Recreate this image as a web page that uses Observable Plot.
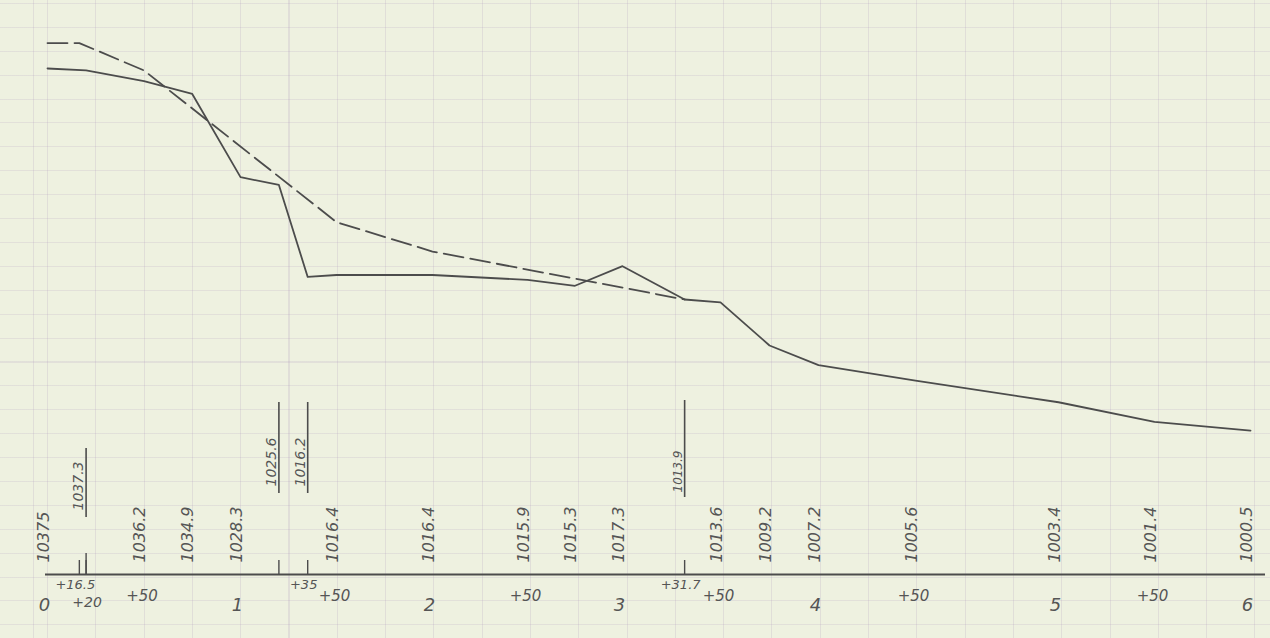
<!DOCTYPE html>
<html>
<head>
<meta charset="utf-8">
<script src="https://cdn.jsdelivr.net/npm/d3@7"></script>
<script src="https://cdn.jsdelivr.net/npm/@observablehq/plot@0.6"></script>
<style>
  html, body { margin: 0; padding: 0; background: #eef1e0; }
  #chart {
    width: 1270px; height: 638px; position: relative; overflow: hidden;
    background-color: #eef1e0;
    background-image:
      repeating-linear-gradient(to right, rgba(170,145,185,0.20) 0 1px, transparent 1px 48.3px),
      repeating-linear-gradient(to bottom, rgba(170,145,185,0.18) 0 1px, transparent 1px 23.9px);
    background-position: 47px 0, 0 3px;
  }
  #chart svg { position: absolute; left: 0; top: 0; }
</style>
</head>
<body>
<div id="chart"></div>
<script>
// ---- data (chainage in metres, elevations in metres) ----
const groundStations   = [0, 20, 50, 75, 100, 120, 135, 150, 200, 250, 275, 300, 331.7, 350, 375, 400, 450, 500, 550, 600];
const groundElevations = [1037.5, 1037.3, 1036.2, 1034.9, 1026.4, 1025.6, 1016.2, 1016.4, 1016.4, 1015.9, 1015.3, 1017.3, 1013.9, 1013.6, 1009.2, 1007.2, 1005.6, 1003.4, 1001.4, 1000.5];
const groundLabels     = ["10375", "1037.3", "1036.2", "1034.9", "1028.3", "1025.6", "1016.2", "1016.4", "1016.4", "1015.9", "1015.3", "1017.3", "1013.9", "1013.6", "1009.2", "1007.2", "1005.6", "1003.4", "1001.4", "1000.5"];

const gradeStations   = [0, 16.5, 50, 150, 200, 331.7];
const gradeElevations = [1040.1, 1040.1, 1037.3, 1021.8, 1018.8, 1013.9];

const structureStations = [20, 120, 135, 331.7];

const kmStations = [0, 100, 200, 300, 400, 500, 600];
const kmLabels   = ["0", "1", "2", "3", "4", "5", "6"];

const halfStations = [50, 150, 250, 350, 450, 550];
const halfLabels   = ["+50", "+50", "+50", "+50", "+50", "+50"];

const plusStations = [16.5, 135, 331.7];
const plusLabels   = ["+16.5", "+35", "+31.7"];

const plus20Stations = [20];
const plus20Labels   = ["+20"];

const tickStations = [16.5, 20, 120, 135, 331.7];

const datum = 985.8;           // datum level of the profile (axis line)
const topElevation = 1037.5;

// ---- tables built from the arrays ----
const ground = groundStations.map((s, i) => ({station: s, elevation: groundElevations[i], label: groundLabels[i]}));
const grade = gradeStations.map((s, i) => ({station: s, elevation: gradeElevations[i]}));
const isStructure = (d) => structureStations.includes(d.station);
const km = kmStations.map((s, i) => ({station: s, label: kmLabels[i]}));
const half = halfStations.map((s, i) => ({station: s, label: halfLabels[i]}));
const plus = plusStations.map((s, i) => ({station: s, label: plusLabels[i]}));
const plus20 = plus20Stations.map((s, i) => ({station: s, label: plus20Labels[i]}));

const ink = "#4c4c4c";
const textInk = "#555555";
const font = "DejaVu Sans";

const chart = Plot.plot({
  width: 1270,
  height: 638,
  marginTop: 68,
  marginBottom: 64,
  marginLeft: 0,
  marginRight: 0,
  style: {background: "transparent", fontFamily: font, overflow: "visible"},
  x: {type: "linear", axis: null, domain: [0, 100, 200, 300, 400, 450, 500, 600], range: [47, 240, 432, 622, 818, 915, 1058, 1250]},
  y: {type: "linear", axis: null, domain: [datum, topElevation]},
  marks: [
    // axis line
    Plot.ruleY([datum], {stroke: ink, strokeWidth: 1.8, insetLeft: 45, insetRight: 5}),
    // short ticks on the axis
    Plot.ruleX(tickStations, {x: (d) => d, y1: datum, y2: datum, insetTop: -14, stroke: ink, strokeWidth: 1.4}),
    Plot.ruleX([20], {x: (d) => d, y1: datum, y2: datum, insetTop: -21, stroke: ink, strokeWidth: 1.4}),
    // tall structure lines
    Plot.ruleX([20], {x: (d) => d, y1: datum, y2: datum, insetTop: -126, insetBottom: 57, stroke: ink, strokeWidth: 1.6}),
    Plot.ruleX([120, 135], {x: (d) => d, y1: datum, y2: datum, insetTop: -172, insetBottom: 81, stroke: ink, strokeWidth: 1.6}),
    Plot.ruleX([331.7], {x: (d) => d, y1: datum, y2: datum, insetTop: -174, insetBottom: 77, stroke: ink, strokeWidth: 1.6}),
    // design grade (dashed)
    Plot.line(grade, {x: "station", y: "elevation", stroke: ink, strokeWidth: 1.8, strokeDasharray: "20,7"}),
    // ground profile
    Plot.line(ground, {x: "station", y: "elevation", stroke: ink, strokeWidth: 1.8}),
    // ground elevation labels (rotated)
    Plot.text(ground.filter((d) => !isStructure(d)), {
      x: "station", y: datum, text: "label", rotate: -90, textAnchor: "start", lineAnchor: "middle",
      dx: -4, dy: -12, fontSize: 16, fontStyle: "italic", fill: textInk
    }),
    // underlined structure labels
    Plot.text(ground.filter((d) => d.station === 20), {
      x: "station", y: datum, text: "label", rotate: -90, textAnchor: "start", lineAnchor: "bottom",
      dx: -3, dy: -64, fontSize: 14, fontStyle: "italic", fill: textInk
    }),
    Plot.text(ground.filter((d) => d.station === 120 || d.station === 135), {
      x: "station", y: datum, text: "label", rotate: -90, textAnchor: "start", lineAnchor: "bottom",
      dx: -3, dy: -88, fontSize: 14, fontStyle: "italic", fill: textInk
    }),
    Plot.text(ground.filter((d) => d.station === 331.7), {
      x: "station", y: datum, text: "label", rotate: -90, textAnchor: "start", lineAnchor: "bottom",
      dx: -3, dy: -82, fontSize: 12, fontStyle: "italic", fill: textInk
    }),
    // station labels below the axis
    Plot.text(km, {x: "station", y: datum, text: "label", dx: -3, dy: 31, fontSize: 18, fontStyle: "italic", fill: textInk}),
    Plot.text(half, {x: "station", y: datum, text: "label", dx: -2, dy: 22, fontSize: 15, fontStyle: "italic", fill: textInk}),
    Plot.text(plus, {x: "station", y: datum, text: "label", dx: -4, dy: 10, fontSize: 13, fontStyle: "italic", fill: textInk}),
    Plot.text(plus20, {x: "station", y: datum, text: "label", dx: 1, dy: 28, fontSize: 14, fontStyle: "italic", fill: textInk})
  ]
});

document.getElementById("chart").appendChild(chart);
</script>
</body>
</html>
